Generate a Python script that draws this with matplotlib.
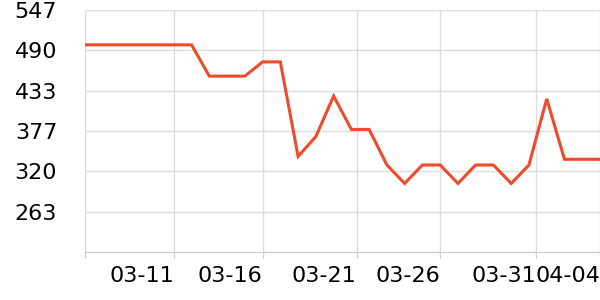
import numpy as np
import matplotlib.pyplot as plt

# valeurs (une par jour, du 03-06 au 04-04)
valeurs = [498, 498, 498, 498, 498, 498, 498, 454, 454, 454,
           474, 474, 341, 369, 426, 379, 379, 329, 303, 329,
           329, 303, 329, 329, 303, 329, 422, 337, 337, 337]
jours = np.arange(len(valeurs))

# graduations
tick_pos_x = [5, 10, 15.3, 20, 25.4, 29]
tick_labels_x = ['03-11', '03-16', '03-21', '03-26', '03-31', '04-04']
y_min, y_max = 206.6, 547
tick_pos_y = np.linspace(y_min, y_max, 7)
tick_labels_y = ['', '263', '320', '377', '433', '490', '547']

fig = plt.figure(figsize=(6, 3), dpi=100)
ax = fig.add_axes([85 / 600, 48 / 300, 515 / 600, 242 / 300])

ax.plot(jours, valeurs, color='#ee4b2b', linewidth=2.2, solid_joinstyle='miter', zorder=3)

ax.set_xlim(0, len(valeurs) - 1)
ax.set_ylim(y_min, y_max)

ax.set_xticks([0] + tick_pos_x)
ax.set_xticklabels([''] + tick_labels_x, fontsize=16, ha='right')
ax.set_yticks(tick_pos_y)
ax.set_yticklabels(tick_labels_y, fontsize=16)

ax.grid(True, color='#dddddd', linewidth=1)
ax.tick_params(axis='x', length=4, color='#cccccc', pad=6)
ax.tick_params(axis='y', length=0, pad=20)

for cote in ['top', 'right', 'left']:
    ax.spines[cote].set_visible(False)
ax.spines['bottom'].set_color('#cccccc')

fig.savefig('out.png', dpi=100)
